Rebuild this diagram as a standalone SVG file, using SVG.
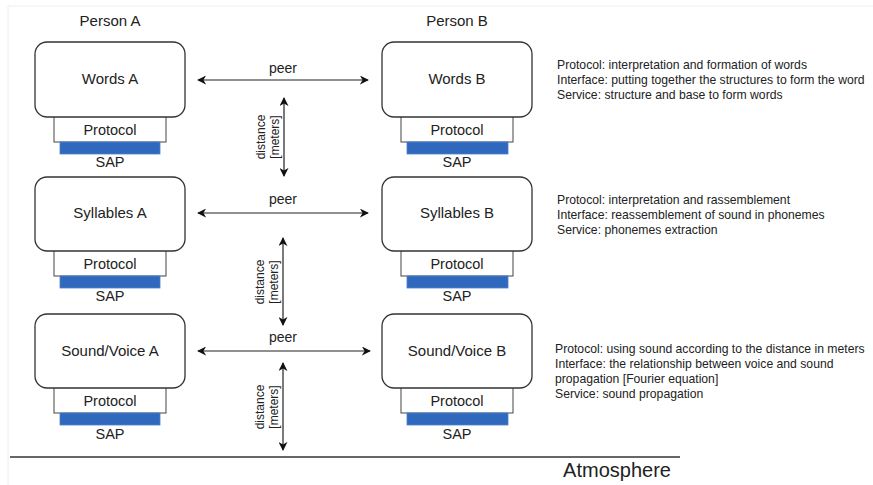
<svg xmlns="http://www.w3.org/2000/svg" width="873" height="485" viewBox="0 0 873 485">
<defs>
<style>
text{font-family:"Liberation Sans",Arial,Helvetica,sans-serif;fill:#222}
.lbl{font-size:15px;text-anchor:middle}
.hd{font-size:15px;text-anchor:middle}
.small{font-size:14.5px;text-anchor:middle}
.peer{font-size:14px;text-anchor:middle}
.desc{font-size:12.2px}
.dist{font-size:12px;text-anchor:middle}
.box{fill:#fff;stroke:#333;stroke-width:1.3}
.proto{fill:#fff;stroke:#444;stroke-width:1}
.sap{fill:#2f68bd;stroke:#4a80cc;stroke-width:0.8}
.arr{stroke:#222;stroke-width:1.2;fill:none;marker-start:url(#ah);marker-end:url(#ah)}
</style>
<marker id="ah" viewBox="0 0 10 10" refX="9" refY="5" markerWidth="9" markerHeight="9" markerUnits="userSpaceOnUse" orient="auto-start-reverse">
<path d="M0,0 L10,5 L0,10 L3,5 Z" fill="#111"/>
</marker>
</defs>
<rect x="0" y="0" width="873" height="485" fill="#fff"/>
<path d="M8,6 H873 M8,6 V485" stroke="#eeeeee" stroke-width="1" fill="none"/>

<text class="hd" x="110" y="26">Person A</text>
<text class="hd" x="457" y="26">Person B</text>

<g id="wordsA">
<rect class="proto" x="54" y="112" width="112" height="30"/>
<rect class="sap" x="60" y="142" width="100" height="12"/>
<rect class="box" x="35" y="42" width="150" height="75" rx="12"/>
<text class="lbl" x="110" y="84">Words A</text>
<text class="small" x="110" y="135">Protocol</text>
<text class="small" x="110" y="167">SAP</text>
</g>
<g id="wordsB">
<rect class="proto" x="401" y="112" width="112" height="30"/>
<rect class="sap" x="407" y="142" width="101" height="12"/>
<rect class="box" x="382" y="42" width="150" height="75" rx="12"/>
<text class="lbl" x="457" y="84">Words B</text>
<text class="small" x="457" y="135">Protocol</text>
<text class="small" x="457" y="167">SAP</text>
</g>
<g id="sylA">
<rect class="proto" x="54" y="246" width="112" height="30"/>
<rect class="sap" x="60" y="276" width="100" height="12"/>
<rect class="box" x="35" y="177" width="150" height="74" rx="12"/>
<text class="lbl" x="110" y="218">Syllables A</text>
<text class="small" x="110" y="269">Protocol</text>
<text class="small" x="110" y="301">SAP</text>
</g>
<g id="sylB">
<rect class="proto" x="401" y="246" width="112" height="30"/>
<rect class="sap" x="407" y="276" width="101" height="12"/>
<rect class="box" x="382" y="177" width="150" height="74" rx="12"/>
<text class="lbl" x="457" y="218">Syllables B</text>
<text class="small" x="457" y="269">Protocol</text>
<text class="small" x="457" y="301">SAP</text>
</g>
<g id="soundA">
<rect class="proto" x="54" y="383" width="112" height="30"/>
<rect class="sap" x="60" y="413" width="100" height="12"/>
<rect class="box" x="35" y="314" width="150" height="74" rx="12"/>
<text class="lbl" x="110" y="356">Sound/Voice A</text>
<text class="small" x="110" y="406">Protocol</text>
<text class="small" x="110" y="439">SAP</text>
</g>
<g id="soundB">
<rect class="proto" x="401" y="383" width="112" height="30"/>
<rect class="sap" x="407" y="413" width="101" height="12"/>
<rect class="box" x="382" y="314" width="150" height="74" rx="12"/>
<text class="lbl" x="457" y="356">Sound/Voice B</text>
<text class="small" x="457" y="406">Protocol</text>
<text class="small" x="457" y="439">SAP</text>
</g>

<g id="connectors">
<line class="arr" x1="198" y1="80" x2="368" y2="80"/>
<line class="arr" x1="198" y1="213" x2="368" y2="213"/>
<line class="arr" x1="198" y1="351" x2="370" y2="351"/>
<line class="arr" x1="284" y1="98" x2="284" y2="176"/>
<line class="arr" x1="283" y1="238" x2="283" y2="325"/>
<line class="arr" x1="283" y1="363" x2="283" y2="450"/>
</g>

<text class="peer" x="283" y="73">peer</text>
<text class="peer" x="283" y="204">peer</text>
<text class="peer" x="283" y="342">peer</text>

<text class="dist" transform="translate(265,137) rotate(-90)">distance</text>
<text class="dist" transform="translate(279,137) rotate(-90)">[meters]</text>
<text class="dist" transform="translate(264,282) rotate(-90)">distance</text>
<text class="dist" transform="translate(278,282) rotate(-90)">[meters]</text>
<text class="dist" transform="translate(264,407) rotate(-90)">distance</text>
<text class="dist" transform="translate(278,407) rotate(-90)">[meters]</text>

<g id="desc1">
<text class="desc" x="557" y="69">Protocol: interpretation and formation of words</text>
<text class="desc" x="557" y="84">Interface: putting together the structures to form the word</text>
<text class="desc" x="557" y="99">Service: structure and base to form words</text>
</g>
<g id="desc2">
<text class="desc" x="557" y="204">Protocol: interpretation and rassemblement</text>
<text class="desc" x="557" y="219">Interface: reassemblement of sound in phonemes</text>
<text class="desc" x="557" y="234">Service: phonemes extraction</text>
</g>
<g id="desc3">
<text class="desc" x="555" y="353">Protocol: using sound according to the distance in meters</text>
<text class="desc" x="555" y="368">Interface: the relationship between voice and sound</text>
<text class="desc" x="555" y="383">propagation [Fourier equation]</text>
<text class="desc" x="555" y="398">Service: sound propagation</text>
</g>

<line x1="10" y1="457" x2="680" y2="457" stroke="#333" stroke-width="1.3"/>
<text x="617" y="477" style="font-size:20px;text-anchor:middle">Atmosphere</text>
</svg>
